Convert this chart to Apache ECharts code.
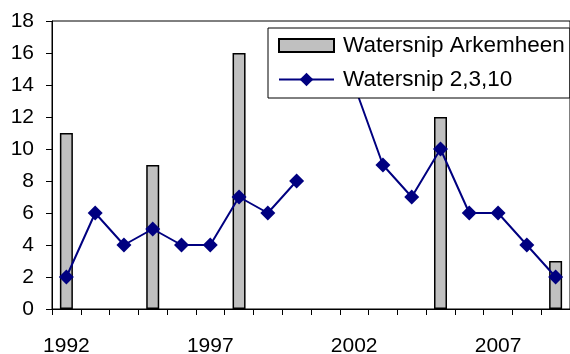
<!DOCTYPE html>
<html><head><meta charset="utf-8">
<script src="https://cdn.jsdelivr.net/npm/echarts@6/dist/echarts.min.js"></script>
<style>html,body{margin:0;padding:0;background:#fff}#c{width:570px;height:354px}</style>
</head><body><div id="c"></div>
<script>
var years = ['1992','1993','1994','1995','1996','1997','1998','1999','2000','2001','2002','2003','2004','2005','2006','2007','2008','2009'];
var arkemheen = [11,null,null,9,null,null,16,null,null,null,null,null,null,12,null,null,null,3];
var watersnip2310 = [2,6,4,5,4,4,7,6,8,null,14,9,7,10,6,6,4,2];
var yTicks = {min:0, max:18, interval:2};
var font = '"Liberation Sans", Arial, sans-serif';
var chart = echarts.init(document.getElementById('c'));
chart.setOption({
  animation:false,
  grid:{left:52,right:0,top:21,bottom:45,outerBoundsMode:'none',containLabel:false,show:true,borderColor:'#000',borderWidth:1,backgroundColor:'transparent'},
  legend:{
    orient:'vertical', left:268, top:28, width:298,
    padding:[6,5,7,10], itemGap:11, itemWidth:55, itemHeight:17,
    backgroundColor:'#fff', borderColor:'#000', borderWidth:1,
    textStyle:{fontFamily:font,fontSize:22.5,color:'#000',lineHeight:22,padding:[0,0,0,4]},
    data:[
      {name:'Watersnip Arkemheen',icon:'path://M0,0h55v13h-55z'},
      {name:'Watersnip 2,3,10'}
    ]
  },
  xAxis:{
    type:'category', data:years, boundaryGap:true,
    axisLine:{lineStyle:{color:'#000',width:1}},
    axisTick:{show:true,interval:0,length:6,lineStyle:{color:'#000'}},
    axisLabel:{interval:4,fontFamily:font,fontSize:21,color:'#000',margin:27}
  },
  yAxis:{
    type:'value', min:yTicks.min, max:yTicks.max, interval:yTicks.interval,
    axisLine:{show:true,lineStyle:{color:'#000',width:1}},
    axisTick:{show:true,length:6,lineStyle:{color:'#000'}},
    splitLine:{show:false},
    axisLabel:{fontFamily:font,fontSize:21,color:'#000',margin:18}
  },
  series:[
    {name:'Watersnip Arkemheen',type:'bar',data:arkemheen,barWidth:13,
     itemStyle:{color:'#c0c0c0',borderColor:'#000',borderWidth:1.5}},
    {name:'Watersnip 2,3,10',type:'line',data:watersnip2310,connectNulls:false,
     symbol:'diamond',symbolSize:15,
     lineStyle:{color:'#000080',width:2},itemStyle:{color:'#000080'}}
  ]
});
</script></body></html>
